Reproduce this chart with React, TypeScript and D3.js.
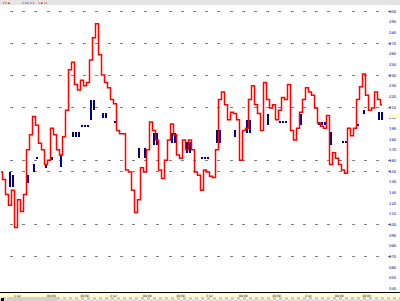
import React from "react";
import * as d3 from "d3";

// ---- data ----
const closePrices: number[] = [
  1.1149, 1.1142, 1.1128, 1.1118, 1.1132, 1.1097, 1.1123, 1.1112, 1.1128, 1.1170,
  1.1184, 1.1201, 1.1193, 1.1176, 1.1170, 1.1156, 1.1160, 1.1190, 1.1184, 1.1170,
  1.1165, 1.1182, 1.1207, 1.1245, 1.1252, 1.1231, 1.1226, 1.1235, 1.1230, 1.1233,
  1.1254, 1.1275, 1.1288, 1.1259, 1.1240, 1.1233, 1.1228, 1.1217, 1.1213, 1.1188,
  1.1185, 1.1185, 1.1151, 1.1149, 1.1132, 1.1111, 1.1123, 1.1153, 1.1149, 1.1170,
  1.1196, 1.1188, 1.1179, 1.1151, 1.1143, 1.1160, 1.1179, 1.1194, 1.1184, 1.1165,
  1.1162, 1.1179, 1.1170, 1.1179, 1.1170, 1.1149, 1.1146, 1.1132, 1.1151, 1.1149,
  1.1145, 1.1144, 1.1170, 1.1217, 1.1224, 1.1212, 1.1198, 1.1205, 1.1204, 1.1198,
  1.1160, 1.1188, 1.1190, 1.1217, 1.1230, 1.1212, 1.1204, 1.1188, 1.1233, 1.1217,
  1.1209, 1.1212, 1.1198, 1.1207, 1.1219, 1.1217, 1.1231, 1.1188, 1.1179, 1.1190,
  1.1205, 1.1217, 1.1228, 1.1224, 1.1221, 1.1209, 1.1195, 1.1192, 1.1190, 1.1202,
  1.1156, 1.1167, 1.1162, 1.1156, 1.1151, 1.1148, 1.1190, 1.1183, 1.1190, 1.1217,
  1.1229, 1.1241, 1.1221, 1.1207, 1.1209, 1.1224, 1.1217, 1.1212,
];

const blueIndex: number[] = [3, 4, 9, 11, 12, 15, 17, 20, 24, 25, 26, 27, 28, 29, 30, 31, 34, 35, 38,
  46, 48, 51, 52, 57, 58, 62, 63, 67, 68, 69, 72, 73, 78, 82, 83, 89, 93, 94, 95, 100,
  106, 107, 108, 110, 114, 115, 119, 121, 126, 127];
const blueHigh: number[] = [1.1149, 1.1146, 1.1146, 1.1157, 1.1163, 1.1157, 1.1163, 1.1165, 1.1187, 1.1187, 1.1187, 1.1193, 1.1193, 1.1193, 1.1217, 1.1217, 1.1204, 1.1204, 1.1197,
  1.1172, 1.1172, 1.1186, 1.1186, 1.1186, 1.1186, 1.1177, 1.1177, 1.1163, 1.1163, 1.1163, 1.1188, 1.1188, 1.1188, 1.1198, 1.1198, 1.1203, 1.1197, 1.1197, 1.1197, 1.1203,
  1.1196, 1.1196, 1.1196, 1.1187, 1.1178, 1.1178, 1.1194, 1.1207, 1.1205, 1.1205];
const blueLow: number[] = [1.1135, 1.1135, 1.1139, 1.1149, 1.1162, 1.1153, 1.1160, 1.1154, 1.1182, 1.1182, 1.1182, 1.1191, 1.1191, 1.1191, 1.1198, 1.1207, 1.1200, 1.1200, 1.1195,
  1.1162, 1.1162, 1.1174, 1.1174, 1.1176, 1.1176, 1.1167, 1.1167, 1.1161, 1.1161, 1.1161, 1.1176, 1.1176, 1.1182, 1.1186, 1.1186, 1.1193, 1.1195, 1.1195, 1.1195, 1.1193,
  1.1193, 1.1193, 1.1193, 1.1174, 1.1176, 1.1176, 1.1192, 1.1203, 1.1198, 1.1198];

const priceLabels: string[] = [
  "1.1300", "1.1290", "1.1280", "1.1270", "1.1260", "1.1250", "1.1240", "1.1230", "1.1220",
  "1.1210", "1.1200", "1.1190", "1.1180", "1.1170", "1.1160", "1.1150", "1.1140", "1.1130",
  "1.1120", "1.1110", "1.1100", "1.1090", "1.1080", "1.1070", "1.1060", "1.1050", "1.1040",
];
const gridPrices: number[] = [1.1300, 1.1270, 1.1240, 1.1210, 1.1160, 1.1150, 1.1100, 1.1070];

const timeIndex: number[] = [3, 14, 25, 35, 46, 57, 67, 78, 89, 100, 110, 119];
const timeLabels: string[] = ["1 Jul", "08:00", "16:00", "2 Jul", "08:00", "16:00", "3 Jul", "08:00", "16:00", "4 Jul", "08:00", "16:00"];

const W = 400;
const H = 301;

export default function App() {
  const x = d3.scaleLinear().domain([0, closePrices.length - 1]).range([1, 382]);
  const y = d3.scaleLinear().domain([1.1300, 1.1040]).range([11, 11 + 26 * 10.667]);

  const line = d3
    .line<number>()
    .x((_, i) => x(i))
    .y((d) => y(d))
    .curve(d3.curveStep);

  return (
    <svg
      width={W}
      height={H}
      style={{ position: "fixed", left: 0, top: 0, background: "#fff" }}
      shapeRendering="crispEdges"
    >
      <defs>
        <pattern id="chk" width="6" height="6" patternUnits="userSpaceOnUse">
          <rect width="6" height="6" fill="#f4f2ee" />
          <rect width="3" height="3" fill="#cfcbc3" />
          <rect x="3" y="3" width="3" height="3" fill="#cfcbc3" />
        </pattern>
        <clipPath id="plot">
          <rect x={0} y={5} width={386} height={287} />
        </clipPath>
      </defs>
      <rect x={0} y={0} width={W} height={H} fill="#fff" />
      {/* top bar */}
      <rect x={0} y={0} width={W} height={5} fill="#e4e4e4" />
      <text x={3} y={4} fontSize={3} fill="#ff0000" fontFamily="DejaVu Sans">EU ▪</text>
      <text x={22} y={4} fontSize={3} fill="#000080" fontFamily="DejaVu Sans">1.12 1.1</text>
      <text x={38} y={4} fontSize={3} fill="#ff0000" fontFamily="DejaVu Sans">2 ▪ 12</text>
      <text x={392} y={4} fontSize={3} fill="#000" fontFamily="DejaVu Sans">..</text>

      {/* grid */}
      {gridPrices.map((p, i) => (
        <line
          key={"g" + i}
          x1={10}
          x2={392}
          y1={Math.round(y(p)) + 0.5}
          y2={Math.round(y(p)) + 0.5}
          stroke="#808080"
          strokeWidth={1}
          strokeDasharray="3 9.2"
        />
      ))}

      <g clipPath="url(#plot)">
        {blueIndex.map((idx, i) => {
          const top = y(blueHigh[i]);
          const bot = y(blueLow[i]);
          return (
            <rect
              key={"b" + i}
              x={x(idx) - 1}
              y={top}
              width={1.6}
              height={Math.max(1.5, bot - top)}
              fill="#000080"
            />
          );
        })}
        <path d={line(closePrices) || ""} fill="none" stroke="#ff0000" strokeWidth={1.5} shapeRendering="auto" />
      </g>

      {/* right price axis */}
      {priceLabels.map((lab, i) => (
        <text
          key={"p" + i}
          x={389}
          y={y(+lab) + 1.5}
          fontSize={3.8}
          fill="#000080"
          fontFamily="DejaVu Sans"
        >
          {lab.slice(3)}
        </text>
      ))}
      <rect x={390} y={113} width={10} height={5} fill="#ffffc0" />

      {/* bottom axis */}
      <rect x={0} y={292} width={W} height={5} fill="#fffbd3" />
      <line x1={0} x2={W} y1={292.5} y2={292.5} stroke="#000" strokeWidth={1} />
      {timeIndex.map((idx, i) => (
        <text
          key={"t" + i}
          x={x(idx) + 4}
          y={296.5}
          fontSize={3}
          fill="#000"
          fontFamily="DejaVu Sans"
        >
          {timeLabels[i]}
        </text>
      ))}
      <rect x={0} y={297} width={W} height={4} fill="url(#chk)" />
      <rect x={7} y={297} width={51} height={4} fill="#d4d0c8" />
      <rect x={1} y={298} width={3} height={3} fill="#000" />
    </svg>
  );
}
